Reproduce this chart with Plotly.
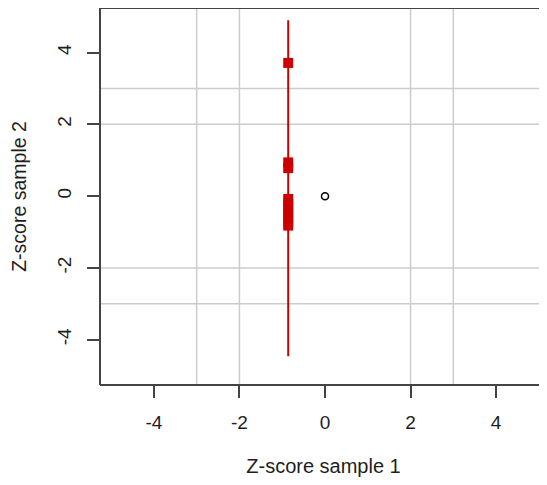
import plotly.graph_objects as go

# Data
line_x = [-0.86, -0.86]
line_y = [-4.46, 4.9]
square_x = [-0.86] * 10
square_y = [3.71, 0.94, 0.78, -0.08, -0.2, -0.33, -0.46, -0.59, -0.72, -0.82]
origin_x = [0]
origin_y = [0]
x_ticks = [-4, -2, 0, 2, 4]
y_ticks = [-4, -2, 0, 2, 4]
grid_x = [-3, -2, 2, 3]
grid_y = [-3, -2, 2, 3]

XR = [-5.26, 5.19]
YR = [-5.26, 5.24]
red = "#CD0000"
axcol = "#444444"
gridcol = "#cccccc"
txt = "#1e1e1e"
font = "Liberation Sans, Arial, sans-serif"

fig = go.Figure()

# grid lines
for gx in grid_x:
    fig.add_trace(go.Scatter(x=[gx, gx], y=YR, mode="lines",
                             line=dict(color=gridcol, width=1.5), hoverinfo="skip", showlegend=False))
for gy in grid_y:
    fig.add_trace(go.Scatter(x=XR, y=[gy, gy], mode="lines",
                             line=dict(color=gridcol, width=1.5), hoverinfo="skip", showlegend=False))

fig.add_trace(go.Scatter(x=line_x, y=line_y, mode="lines",
                         line=dict(color=red, width=2), showlegend=False))
fig.add_trace(go.Scatter(x=square_x, y=square_y, mode="markers",
                         marker=dict(symbol="square", size=10, color=red, line=dict(width=0)),
                         showlegend=False))
fig.add_trace(go.Scatter(x=origin_x, y=origin_y, mode="markers",
                         marker=dict(symbol="circle-open", size=7, color="black", line=dict(width=1.5)),
                         showlegend=False))

# box lines: left, top, bottom
fig.add_shape(type="line", xref="paper", yref="paper", x0=0, x1=0, y0=0, y1=1,
              line=dict(color=axcol, width=2))
fig.add_shape(type="line", xref="paper", yref="paper", x0=0, x1=1, y0=1, y1=1,
              line=dict(color=axcol, width=2))
fig.add_shape(type="line", xref="paper", yref="paper", x0=0, x1=1, y0=0, y1=0,
              line=dict(color=axcol, width=2))

fig.update_xaxes(range=XR, showgrid=False, zeroline=False, showline=False,
                 tickvals=x_ticks, ticktext=[str(v) for v in x_ticks],
                 ticks="outside", ticklen=12, tickwidth=2, tickcolor=axcol,
                 ticklabelstandoff=8,
                 tickfont=dict(family=font, size=19, color=txt),
                 title=dict(text="Z-score sample 1", font=dict(family=font, size=20, color=txt), standoff=30))
fig.update_yaxes(range=YR, showgrid=False, zeroline=False, showline=False,
                 tickvals=y_ticks, ticktext=[str(v) for v in y_ticks],
                 ticks="outside", ticklen=12, tickwidth=2, tickcolor=axcol,
                 tickangle=-90, ticklabelstandoff=8,
                 tickfont=dict(family=font, size=19, color=txt),
                 title=dict(text="Z-score sample 2", font=dict(family=font, size=19.5, color=txt), standoff=32))

fig.update_layout(width=539, height=469, margin=dict(l=92, r=0, t=0, b=92, autoexpand=False),
                  plot_bgcolor="white", paper_bgcolor="white", showlegend=False)

fig.write_html("out.html")
